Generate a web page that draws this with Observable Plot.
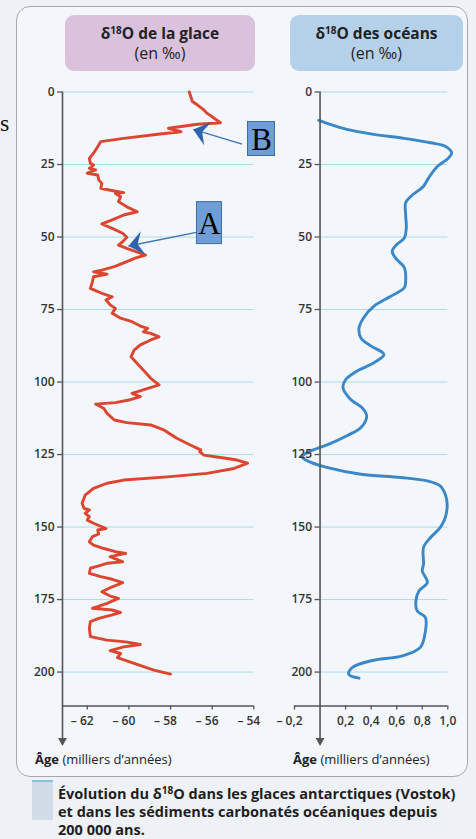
<!DOCTYPE html>
<html><head><meta charset="utf-8">
<script src="https://cdn.jsdelivr.net/npm/d3@7"></script>
<script src="https://cdn.jsdelivr.net/npm/@observablehq/plot@0.6"></script>
<style>
body{margin:0;}
#page{position:relative;width:476px;height:839px;background:#eef2f6;overflow:hidden;font-family:"Open Sans",sans-serif;color:#222;}
.panel{position:absolute;left:16px;top:6px;width:452px;height:771px;border:1.5px solid #a5a9ad;border-radius:14px;background:#f3f6fa;box-sizing:border-box;}
.hdr{position:absolute;top:15px;height:56px;border-radius:9px;text-align:center;font-size:16px;line-height:20px;padding-top:8px;box-sizing:border-box;color:#222;}
.hdr b{font-size:15.5px;font-weight:700;}
.hdr sup{font-size:10px;vertical-align:5px;line-height:0;}
.age{position:absolute;top:750px;font-size:13px;color:#222;}
.age b{font-weight:700;}
.cap{position:absolute;left:58px;top:785px;width:418px;font-size:14.5px;font-weight:700;line-height:18px;color:#1e1e1e;white-space:nowrap;}
.cap sup{font-size:10px;vertical-align:5px;line-height:0;}
.sq{position:absolute;left:32px;top:780px;width:21px;height:40px;background:#d2dce7;border-top:2px solid #86c3de;box-sizing:border-box;}
.plot{position:absolute;top:80px;}
.stray{position:absolute;left:0px;top:111px;font-family:"Liberation Serif",serif;font-size:24px;line-height:24px;color:#111;}
</style></head>
<body>
<div id="page">
  <div class="panel"></div>
  <div class="hdr" style="left:65px;width:190px;background:#dac2dd;"><b>δ<sup>18</sup>O de la glace</b><br>(en ‰)</div>
  <div class="hdr" style="left:290px;width:173px;background:#b5d1ea;"><b>δ<sup>18</sup>O des océans</b><br>(en ‰)</div>
  <div class="stray">s</div>
  <div id="left" class="plot" style="left:0px;width:290px;"></div>
  <div id="right" class="plot" style="left:270px;width:206px;"></div>
  <div class="age" style="left:35px;"><b>Âge</b> (milliers d’années)</div>
  <div class="age" style="left:293px;"><b>Âge</b> (milliers d’années)</div>
  <div class="sq"></div>
  <div class="cap">Évolution du δ<sup>18</sup>O dans les glaces antarctiques (Vostok)<br>et dans les sédiments carbonatés océaniques depuis<br>200 000 ans.</div>
</div>
<script>
// ---- data ----
const ageTicks = [0, 25, 50, 75, 100, 125, 150, 175, 200];
const iceTicks = [-62, -60, -58, -56, -54];
const oceanTicks = [-0.2, 0.2, 0.4, 0.6, 0.8, 1.0];

const iceAge = [0,3.3,4.5,6.2,7.3,10.6,11.1,12.5,13.7,14.5,16,17.1,18.9,21.1,22.9,24.6,25.2,26.3,26.9,28,28.6,30.3,31.5,33.2,33.8,34.7,34.9,36.1,37.8,39.6,41.3,42.4,44.1,45.5,47,48.7,50.1,51.6,52.8,53.9,56.2,57.3,58.5,60.2,61.4,62,62.8,63.7,65.4,67.7,68.5,69.4,70.6,71.7,73.4,74.6,76.3,78,79.2,80.7,81.5,82.7,83.2,84.4,85.5,87.2,89,91.3,93.6,95.9,98.7,101,102.8,103.9,105,106.2,107.1,107.6,109.1,110.8,113.1,114,114.8,116.6,119.4,121.7,123.4,124,125.2,126,126.9,128,129.8,131.5,132.7,133.8,134.9,136.7,139,141.8,143.6,144.1,145.3,146.4,147.6,148.7,150.5,151,152.4,153.3,155.1,156.2,157.4,158.5,159.1,160.2,162,162.5,163.4,164.2,166,167.1,168,169.2,170.6,172.3,173.8,174.6,176.3,178,178.6,179.4,180.3,181.5,182.6,184.9,187.8,189,189.6,190.5,191.3,192.6,193.6,195,197,199.3,200.7];
const iceD18O = [-57.1,-56.95,-56.7,-56.4,-56.25,-55.6,-56.7,-58.1,-57.5,-58.5,-60.25,-61.35,-61.5,-61.7,-61.9,-61.85,-61.7,-61.9,-61.6,-62,-61.5,-61.45,-61.3,-61.35,-60.95,-60.25,-60.65,-60.4,-60.5,-60.1,-59.6,-60.25,-60.8,-61.3,-60.8,-60.3,-60.1,-60.3,-60.5,-60.1,-59.2,-59.7,-60.1,-60.7,-61.3,-61.7,-61.05,-61.7,-61.75,-61.85,-61.6,-61.3,-60.8,-61.1,-60.9,-60.65,-60.8,-60.4,-59.85,-59.45,-59.1,-59.3,-58.95,-58.55,-58.95,-59.45,-59.75,-59.9,-59.6,-59.3,-58.95,-58.55,-59.35,-59.85,-59.45,-60,-60.65,-61.6,-61.2,-61.05,-60.7,-60.1,-58.95,-58.3,-57.7,-57.05,-56.55,-56.6,-56.4,-55.6,-54.8,-54.3,-54.95,-56.25,-58.15,-60.25,-61.05,-61.7,-62.1,-62.25,-62.15,-61.9,-62.1,-61.9,-62,-61.7,-61.1,-61.5,-61.45,-61.75,-61.9,-61.7,-61.2,-60.65,-60.15,-60.9,-60.3,-61.05,-61.45,-61.85,-61.9,-61.35,-60.8,-60.3,-60.8,-61.3,-60.9,-60.5,-61.05,-61.75,-60.8,-60.4,-60.8,-61.45,-61.85,-61.9,-61.85,-61.05,-60.15,-59.45,-60.25,-60.9,-60.4,-60.55,-59.75,-58.8,-58];

const oceanAge = [9.8,10.9,12.9,14.6,16,17.5,18.7,21,23.2,25.6,29.6,32.5,36,38.2,42.3,46.8,50.3,52.6,54.9,57.2,60.6,65.3,67.5,70.5,73.9,77.9,81.4,84.8,87.6,90.5,93.4,96.2,99.2,102,106,108.9,111.7,115.7,118.5,121.4,123.7,125.8,127.7,129.5,131.8,132.9,134.1,135.8,138.7,142.1,146.8,150.2,153.6,157,162.8,165.1,169.1,172,175.5,178.9,181.2,185.8,191.5,194.4,196.1,198.5,200.8,202.1];
const oceanD18O = [-0.01,0.06,0.21,0.42,0.66,0.865,0.98,1.03,0.995,0.92,0.85,0.81,0.71,0.67,0.67,0.675,0.66,0.6,0.565,0.59,0.66,0.67,0.66,0.55,0.42,0.34,0.305,0.32,0.4,0.5,0.42,0.29,0.2,0.18,0.24,0.33,0.365,0.32,0.21,0.07,-0.07,-0.14,-0.07,0.06,0.32,0.63,0.84,0.94,0.98,0.995,0.98,0.94,0.865,0.81,0.81,0.8,0.84,0.775,0.75,0.76,0.825,0.825,0.785,0.645,0.4,0.25,0.225,0.305];

// annotations on the ice curve (data units)
const annotLabels = ["B", "A"];
const annotBoxAge = [16.2, 45.2];
const annotBoxD18O = [-53.63, -56.13];
const annotTailAge = [18.0, 48.3];
const annotTailD18O = [-54.56, -56.7];
const annotTipAge = [12.9, 53.1];
const annotTipD18O = [-56.91, -60.02];

// ---- styling / layout constants ----
const H = 670, MT = 11.5, MB = 44.5;
const Y_MAX = 211.7, Y_ARROW = 225.5;
const AXIS = "#555", TXT = "#333", GRID = "#a9dde8";
const boxSize = {A: [25, 42], B: [27, 34]};

function head(wf, nf) {
  return {draw(ctx, size) {
    const r = Math.sqrt(size / Math.PI);
    ctx.moveTo(0, 0); ctx.lineTo(wf * r, r); ctx.lineTo(0, nf * r); ctx.lineTo(-wf * r, r); ctx.closePath();
  }};
}
const stealth = head(0.8, 0.62);
const axisHead = head(0.55, 1.0);

function panel({xDomain, xAxisAt, xTicks, fmt, width, marginLeft, marginRight, series, color, curve, extra = []}) {
  const dpx = (xDomain[1] - xDomain[0]) / (width - marginLeft - marginRight);
  const dpy = Y_MAX / (H - MT - MB);
  const neg = xTicks.filter(d => d < 0), pos = xTicks.filter(d => d >= 0);
  const font = {fontFamily: "Open Sans", fontSize: 12, fontWeight: 600, fill: TXT};
  return Plot.plot({
    width, height: H, marginLeft, marginRight, marginTop: MT, marginBottom: MB,
    x: {domain: xDomain, axis: null},
    y: {domain: [0, Y_MAX], range: [MT, H - MB], axis: null},
    style: {background: "transparent", overflow: "visible"},
    marks: [
      Plot.ruleY(ageTicks, {y: d => d, x1: xAxisAt, x2: xDomain[1], stroke: GRID, strokeWidth: 1}),
      Plot.line(series, {x: "v", y: "age", stroke: color, strokeWidth: 2.9, curve, strokeLinejoin: "round"}),
      Plot.ruleX([xAxisAt], {x: d => d, y1: 0, y2: Y_ARROW - 4 * dpy, stroke: AXIS, strokeWidth: 1.6}),
      Plot.dot([xAxisAt], {x: d => d, y: Y_ARROW, symbol: axisHead, r: 8, rotate: 180, fill: AXIS, stroke: null}),
      Plot.ruleY(ageTicks, {y: d => d, x1: xAxisAt - 5 * dpx, x2: xAxisAt, stroke: AXIS, strokeWidth: 1.3}),
      Plot.text(ageTicks, {x: xAxisAt, y: d => d, dx: -8, text: d => String(d), textAnchor: "end", ...font}),
      Plot.ruleY([Y_MAX], {y: d => d, x1: xDomain[0], x2: xDomain[1], stroke: AXIS, strokeWidth: 1.6}),
      Plot.ruleX(xTicks, {x: d => d, y1: Y_MAX, y2: Y_MAX + 4 * dpy, stroke: AXIS, strokeWidth: 1.3}),
      Plot.text(neg, {x: d => d, y: Y_MAX, dy: 15, dx: -5, text: fmt, ...font}),
      Plot.text(pos, {x: d => d, y: Y_MAX, dy: 15, text: fmt, ...font}),
      ...extra
    ]
  });
}

// ---- left panel (ice) ----
const iceSeries = iceAge.map((a, i) => ({age: a, v: iceD18O[i]}));
const L = {xDomain: [-63.19, -54], width: 290, marginLeft: 62, marginRight: 36.7};
const lx = d3.scaleLinear(L.xDomain, [L.marginLeft, L.width - L.marginRight]);
const ly = d3.scaleLinear([0, Y_MAX], [MT, H - MB]);
const annots = annotLabels.map((lab, i) => {
  const dx = lx(annotTipD18O[i]) - lx(annotTailD18O[i]);
  const dy = ly(annotTipAge[i]) - ly(annotTailAge[i]);
  return {lab, bx: annotBoxD18O[i], by: annotBoxAge[i], tx: annotTailD18O[i], ty: annotTailAge[i],
    hx: annotTipD18O[i], hy: annotTipAge[i], rot: Math.atan2(dx, -dy) * 180 / Math.PI,
    w: boxSize[lab][0], h: boxSize[lab][1]};
});
const annotMarks = [
  Plot.link(annots, {x1: "tx", y1: "ty", x2: "hx", y2: "hy", stroke: "#3d72b8", strokeWidth: 1.3}),
  Plot.dot(annots, {x: "hx", y: "hy", symbol: stealth, r: 15, rotate: "rot", fill: "#2d64ad", stroke: null}),
  ...annots.map(a => Plot.rect([a], {x1: "bx", x2: "bx", y1: "by", y2: "by",
    insetLeft: -a.w / 2, insetRight: -a.w / 2, insetTop: -a.h / 2, insetBottom: -a.h / 2,
    fill: "#6f9dd6", stroke: "#3f6ca8", strokeWidth: 1})),
  Plot.text(annots, {x: "bx", y: "by", text: "lab", fontFamily: "Liberation Serif", fontSize: 31, fill: "#000", dy: 1})
];
document.getElementById("left").append(panel({
  ...L, xAxisAt: L.xDomain[0], xTicks: iceTicks,
  fmt: d => d < 0 ? "– " + Math.abs(d) : String(d),
  series: iceSeries, color: "#dc4630", curve: "linear", extra: annotMarks
}));

// ---- right panel (oceans) ----
const oceanSeries = oceanAge.map((a, i) => ({age: a, v: oceanD18O[i]}));
const f1 = d3.format(".1f");
document.getElementById("right").append(panel({
  xDomain: [-0.2, 1.0], width: 206, marginLeft: 24, marginRight: 28.7, xAxisAt: 0, xTicks: oceanTicks,
  fmt: d => (d < 0 ? "– " + f1(-d) : f1(d)).replace(".", ","),
  series: oceanSeries, color: "#3a87c9", curve: "catmull-rom"
}));
</script>
</body></html>
